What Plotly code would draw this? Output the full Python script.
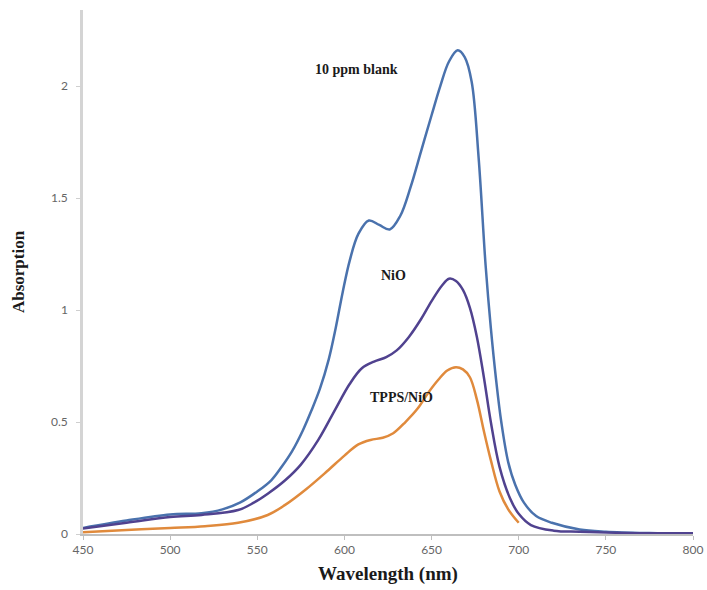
import plotly.graph_objects as go

# Wavelength (nm) / absorption values
blank_wl = [450, 475, 500, 518, 530, 540, 550, 558, 564, 570, 576, 581, 586, 591, 595, 599, 603, 608,
            614, 620, 626, 632, 638, 644, 650, 655, 660, 665, 669, 673, 677, 681, 684, 687, 690, 694,
            698, 703, 710, 719, 735, 750, 775, 800]
blank_abs = [0.027, 0.06, 0.087, 0.093, 0.11, 0.14, 0.19, 0.24, 0.30, 0.37, 0.46, 0.55, 0.65, 0.78,
             0.92, 1.08, 1.22, 1.34, 1.40, 1.38, 1.36, 1.42, 1.55, 1.71, 1.87, 2.00, 2.11, 2.16, 2.13,
             2.02, 1.68, 1.20, 0.92, 0.69, 0.50, 0.32, 0.22, 0.14, 0.08, 0.05, 0.02, 0.01, 0.004, 0.002]

nio_wl = [450, 475, 500, 518, 539, 548, 556, 566, 575, 585, 595, 603, 610, 617, 624, 630, 637, 644,
          650, 656, 660, 664, 668, 672, 676, 680, 684, 689, 695, 700, 707, 720, 735, 760, 800]
nio_abs = [0.025, 0.05, 0.076, 0.085, 0.107, 0.14, 0.18, 0.24, 0.31, 0.42, 0.56, 0.67, 0.74, 0.77,
           0.79, 0.82, 0.88, 0.96, 1.04, 1.11, 1.14, 1.13, 1.09, 1.01, 0.88, 0.70, 0.50, 0.30, 0.16,
           0.09, 0.04, 0.015, 0.01, 0.005, 0.003]

tpps_wl = [450, 475, 500, 520, 539, 556, 566, 578, 590, 600, 608, 615, 622, 628, 635, 642, 648, 654,
           659, 664, 668, 672, 676, 680, 684, 689, 694, 700]
tpps_abs = [0.008, 0.018, 0.027, 0.035, 0.05, 0.085, 0.13, 0.20, 0.28, 0.35, 0.40, 0.42, 0.43, 0.45,
            0.50, 0.56, 0.63, 0.69, 0.73, 0.745, 0.735, 0.70, 0.60, 0.46, 0.33, 0.19, 0.11, 0.05]

x_ticks = [450, 500, 550, 600, 650, 700, 750, 800]
y_ticks = [0, 0.5, 1, 1.5, 2]
y_tick_text = ["0", "0.5", "1", "1.5", "2"]

fig = go.Figure()
series = [
    (blank_wl, blank_abs, "#4a72ad", "10 ppm blank"),
    (nio_wl, nio_abs, "#50428f", "NiO"),
    (tpps_wl, tpps_abs, "#e08a3c", "TPPS/NiO"),
]
for wl, ab, col, name in series:
    fig.add_trace(go.Scatter(x=wl, y=ab, mode="lines", name=name,
                             line=dict(color=col, width=2.5, shape="spline", smoothing=1.0)))

serif = "Liberation Serif, Times New Roman, serif"
ann_font = dict(family=serif, size=14, color="#1a1a1a")
fig.add_annotation(x=607, y=2.075, text="<b>10 ppm blank</b>", showarrow=False, font=ann_font)
fig.add_annotation(x=628, y=1.153, text="<b>NiO</b>", showarrow=False, font=ann_font)
fig.add_annotation(x=633, y=0.61, text="<b>TPPS/NiO</b>", showarrow=False, font=ann_font)

tick_font = dict(family="Lato, Open Sans, sans-serif", size=12, color="#666666")
fig.update_layout(
    width=707, height=590,
    margin=dict(l=83, r=14, t=10, b=56),
    plot_bgcolor="white", paper_bgcolor="white",
    showlegend=False,
    xaxis=dict(range=[450, 800], tickvals=x_ticks, ticks="outside", ticklen=4,
               tickcolor="#bfbfbf", showgrid=False, zeroline=False, automargin=False,
               showline=True, linecolor="#bfbfbf", linewidth=1.5, tickfont=tick_font,
               title=dict(text="<b>Wavelength (nm)</b>", font=dict(family=serif, size=19, color="#1a1a1a"),
                          standoff=11)),
    yaxis=dict(range=[0, 2.34], tickvals=y_ticks, ticktext=y_tick_text, ticks="outside", ticklen=4,
               tickcolor="#cfcfcf", showgrid=False, zeroline=False, automargin=False,
               ticklabelstandoff=6,
               showline=True, linecolor="#d4d4d4", linewidth=2.5, tickfont=tick_font,
               title=dict(text="<b>Absorption</b>", font=dict(family=serif, size=17, color="#1a1a1a"),
                          standoff=23)),
)

fig.write_html("out.html", config={"displayModeBar": False},
               post_script="document.body.style.margin='0';document.body.style.overflow='hidden';")
